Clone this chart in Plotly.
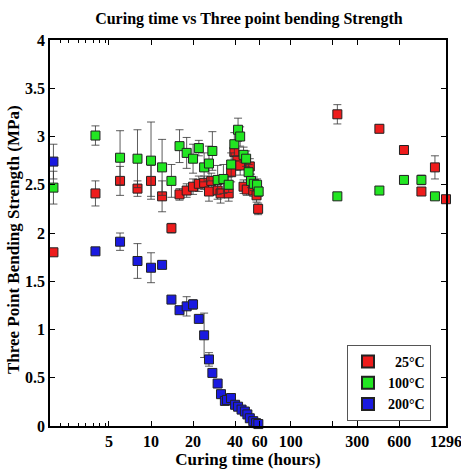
import math
import plotly.graph_objects as go

# ---------------- data ----------------
hours_25 = [2, 4, 6, 8, 10, 12, 14, 16, 18, 20, 22, 24, 26, 27, 30, 31.5, 36, 37.5, 39.5,
            41.5, 43.5, 46, 48.5, 51, 54, 57, 58.5, 216, 432, 648, 864, 1080, 1296]
str_25 = [1.80, 2.41, 2.54, 2.46, 2.54, 2.38, 2.05, 2.40, 2.44, 2.48, 2.51, 2.52, 2.43, 2.54,
          2.44, 2.41, 2.41, 2.63, 2.84, 2.75, 2.70, 2.48, 2.45, 2.69, 2.44, 2.39, 2.25,
          3.23, 3.08, 2.86, 2.43, 2.68, 2.35]
err_25 = [0.03, 0.13, 0.15, 0.08, 0.16, 0.16, 0.05, 0.06, 0.07, 0.08, 0.08, 0.07, 0.10, 0.08,
          0.09, 0.10, 0.08, 0.10, 0.12, 0.10, 0.10, 0.07, 0.06, 0.08, 0.06, 0.07, 0.06,
          0.10, 0.04, 0.03, 0.03, 0.12, 0.03]

hours_100 = [2, 4, 6, 8, 10, 12, 14, 16, 18, 20, 22, 24, 26, 27.5, 30, 33, 36, 37.5, 39.5,
             42, 43.5, 46, 48, 50, 52, 54.5, 57.5, 59, 216, 432, 648, 864, 1080]
str_100 = [2.47, 3.01, 2.78, 2.77, 2.75, 2.68, 2.54, 2.90, 2.83, 2.77, 2.88, 2.68, 2.72, 2.85,
           2.55, 2.56, 2.50, 2.71, 2.92, 3.07, 3.00, 2.81, 2.77, 2.63, 2.54, 2.51, 2.50, 2.43,
           2.38, 2.44, 2.55, 2.55, 2.38]
err_100 = [0.17, 0.10, 0.28, 0.30, 0.40, 0.29, 0.17, 0.17, 0.16, 0.15, 0.08, 0.15, 0.18, 0.20,
           0.15, 0.15, 0.08, 0.12, 0.12, 0.12, 0.10, 0.08, 0.08, 0.08, 0.07, 0.07, 0.06, 0.05,
           0.03, 0.04, 0.02, 0.05, 0.03]

hours_200 = [2, 4, 6, 8, 10, 12, 14, 16, 18, 20, 22, 24, 26, 27.5, 30, 31.7, 33.8, 35, 37.4,
             40, 42, 44.5, 47, 49, 51, 54, 56.5, 58.7]
str_200 = [2.74, 1.81, 1.91, 1.71, 1.64, 1.67, 1.31, 1.20, 1.24, 1.26, 1.11, 0.94, 0.69, 0.55,
           0.44, 0.33, 0.26, 0.27, 0.29, 0.22, 0.20, 0.17, 0.15, 0.12, 0.08, 0.05, 0.03, 0.02]
err_200 = [0.18, 0.01, 0.09, 0.18, 0.155, 0.04, 0.01, 0.01, 0.10, 0.05, 0.01, 0.23, 0.07, 0.01,
           0.01, 0.01, 0.03, 0.03, 0.01, 0.01, 0.01, 0.01, 0.01, 0.01, 0.01, 0.01, 0.01, 0.01]

x_tickvals = [5, 10, 20, 40, 60, 100, 200, 300, 600, 1296]
x_ticktext = ["5", "10", "20", "40", "60", "100", "", "300", "600", "1296"]
x_minor = [2.25, 2.55, 3.0, 3.4, 3.85, 4.3, 4.75]
y_tickvals = [0, 0.5, 1, 1.5, 2, 2.5, 3, 3.5, 4]
y_ticktext = ["0", "0.5", "1", "1.5", "2", "2.5", "3", "3.5", "4"]

series = [
    ("\u200725\u00b0C", hours_25, str_25, err_25, "#ee1c1c"),
    ("100\u00b0C", hours_100, str_100, err_100, "#22e622"),
    ("200\u00b0C", hours_200, str_200, err_200, "#1a1ae0"),
]

SERIF = "Liberation Serif"

fig = go.Figure()
for name, xs, ys, es, col in series:
    fig.add_trace(go.Scatter(
        x=xs, y=ys, mode="markers", name=name, cliponaxis=False,
        marker=dict(symbol="square", size=9, color=col, line=dict(color="#222222", width=1)),
        error_y=dict(type="data", array=es, visible=True, color="#333333", thickness=0.8, width=4),
    ))

axis_common = dict(
    showline=True, linecolor="black", linewidth=1.5, mirror="ticks",
    ticks="inside", ticklen=5, tickcolor="black", tickwidth=1,
    showgrid=False, zeroline=False, automargin=False, ticklabeloverflow="allow",
    tickfont=dict(family=SERIF, size=16, color="black", weight="bold"),
)

fig.update_layout(
    width=461, height=470,
    margin=dict(l=50, r=15, t=40, b=44),
    plot_bgcolor="white", paper_bgcolor="white",
    title=dict(text="<b>Curing time vs Three point bending Strength</b>",
               x=0.54, xanchor="center", y=1 - 18 / 470, yanchor="middle",
               font=dict(family=SERIF, size=16, color="black")),
    xaxis=dict(type="log", range=[math.log10(1.89), math.log10(1296)],
               tickmode="array", tickvals=x_tickvals, ticktext=x_ticktext,
               minor=dict(tickmode="array", tickvals=x_minor, ticks="inside", ticklen=3,
                          tickcolor="black"),
               title=dict(text="<b>Curing time (hours)</b>", standoff=2,
                          font=dict(family=SERIF, size=17, color="black")),
               **axis_common),
    yaxis=dict(range=[0, 4], tickmode="array", tickvals=y_tickvals, ticktext=y_ticktext,
               **axis_common),
    legend=dict(x=0.75, y=0.21, xanchor="left", yanchor="top",
                bgcolor="white", bordercolor="#555555", borderwidth=1,
                font=dict(family=SERIF, size=14, color="black", weight="bold"),
                itemsizing="constant", tracegroupgap=0),
    showlegend=True,
    annotations=[dict(
        text="<b>Three Point Bending Strength (MPa)</b>", textangle=-90,
        xref="paper", yref="paper", x=(13 - 50) / 396, y=(426 - 240) / 386,
        xanchor="center", yanchor="middle", showarrow=False,
        font=dict(family=SERIF, size=17, color="black"),
    )],
)

fig.write_html("out.html")
